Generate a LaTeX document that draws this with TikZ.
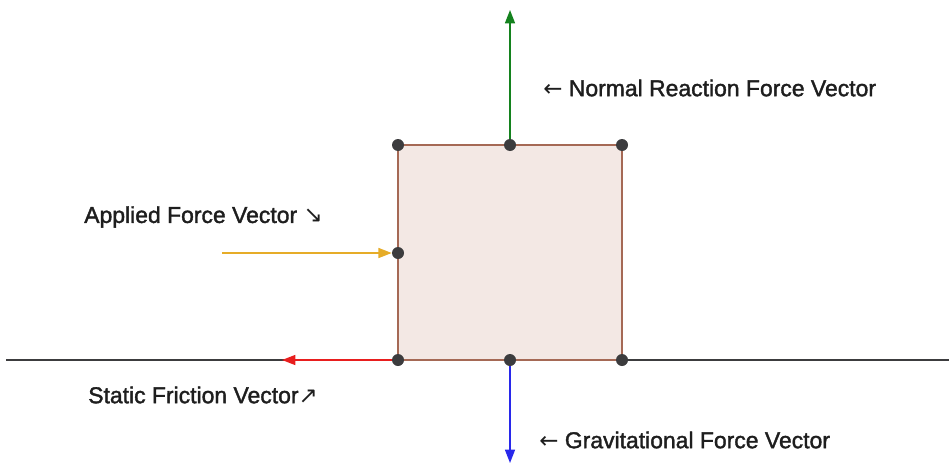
\documentclass[tikz,border=0pt]{standalone}
\usepackage{fontspec}
\setmainfont{Liberation Sans}
\newfontfamily\lblfont[FakeBold=1.6]{Liberation Sans}
\newfontfamily\arrowfont{DejaVu Sans}
\usetikzlibrary{arrows.meta}
\definecolor{boxfill}{RGB}{243,232,228}
\definecolor{boxedge}{RGB}{165,105,85}
\definecolor{ptcol}{RGB}{60,60,62}
\definecolor{ngreen}{RGB}{20,130,30}
\definecolor{ayellow}{RGB}{230,172,40}
\definecolor{fred}{RGB}{232,30,30}
\definecolor{gblue}{RGB}{40,40,235}
\definecolor{txt}{RGB}{30,30,30}
\begin{document}
\begin{tikzpicture}[x=0.75pt,y=-0.75pt,
  pt/.style={circle,fill=ptcol,inner sep=0pt,minimum size=9pt},
  vec/.style={line width=1.1pt,-{Triangle[length=10pt,width=7.5pt]}},
  lbl/.style={text=txt,font=\lblfont\fontsize{17.2}{20}\selectfont,inner sep=0pt,anchor=west}]
\useasboundingbox (0,0) rectangle (949,464);
% ground
\coordinate (gl) at (6,360);
\coordinate (gr) at (949,360);
\draw[ptcol,line width=1.4pt] (gl) -- (gr);
% box
\draw[fill=boxfill,draw=boxedge,line width=1.5pt] (398,145) rectangle (622,360);
% points
\node[pt] (tl) at (398,145) {};
\node[pt] (tm) at (510,145) {};
\node[pt] (tr) at (622,145) {};
\node[pt] (lm) at (398,253) {};
\node[pt] (bl) at (398,360) {};
\node[pt] (bm) at (510,360) {};
\node[pt] (br) at (622,360) {};
% arrow ends
\coordinate (ntip) at (510,10);
\coordinate (gtip) at (510,463);
\coordinate (atail) at (222,253);
\coordinate (ftip) at (282,360);
% vectors
\draw[vec,ngreen] (tm) -- (ntip);
\draw[vec,gblue] (bm) -- (gtip);
\draw[vec,ayellow] (atail) -- (lm);
\draw[vec,fred] (bl) -- (ftip);
% labels
\node[lbl] (nlab) at (543,88) {{\arrowfont ←} Normal Reaction Force Vector};
\node[lbl] (alab) at (84,217) {Applied Force Vector {\arrowfont ↘}};
\node[lbl] (flab) at (88,395) {Static Friction Vector{\arrowfont ↗}};
\node[lbl] (glab) at (539,440) {{\arrowfont ←} Gravitational Force Vector};
\end{tikzpicture}
\end{document}
